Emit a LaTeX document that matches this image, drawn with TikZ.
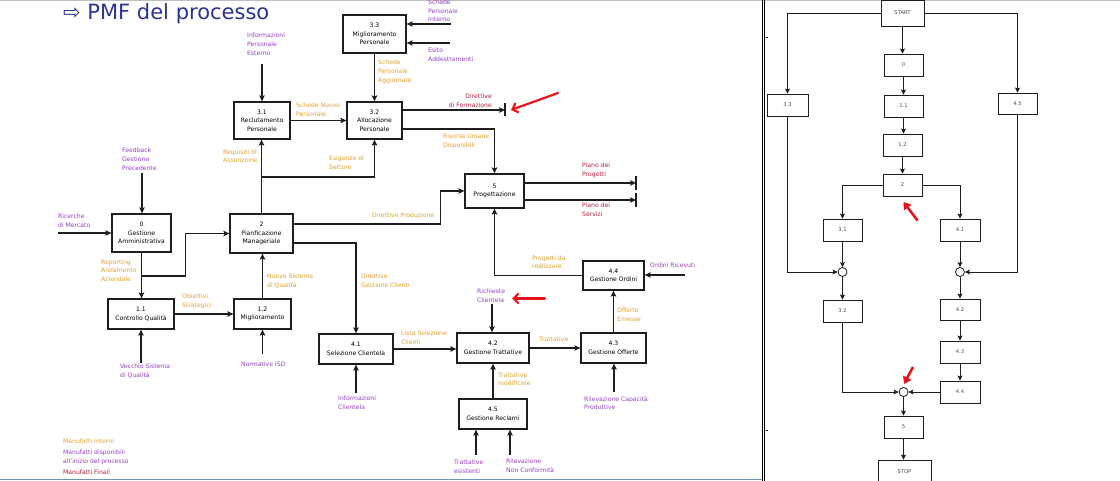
\documentclass[tikz,border=0pt]{standalone}
\usepackage{fontspec}
\setmainfont{DejaVu Sans}
\usetikzlibrary{arrows.meta,calc}
\definecolor{cpurple}{HTML}{9440C4}
\definecolor{corange}{HTML}{E2A22C}
\definecolor{cred}{HTML}{B4203C}
\definecolor{ctitle}{HTML}{2B3590}
\definecolor{cline}{HTML}{1E1E1E}
\definecolor{cbar}{HTML}{6E96BC}
\definecolor{cannot}{HTML}{E8141C}
\newcommand\bfnt{\fontsize{6.1}{8.5}\selectfont}
\newcommand\lfnt{\fontsize{6.1}{8.7}\selectfont}
\newcommand\rfnt{\fontsize{5.2}{6}\selectfont}
\begin{document}
\begin{tikzpicture}[x=1pt,y=-1pt,
  box/.style={draw=cline, line width=1.3pt, fill=white, align=center, inner sep=0pt, font=\bfnt, text=black},
  rbox/.style={draw=cline, line width=0.9pt, fill=white, align=center, inner sep=0pt, font=\rfnt, text=black!70},
  junc/.style={circle, draw=cline, line width=0.8pt, fill=white, minimum size=9pt, inner sep=0pt},
  arr/.style={draw=cline, line width=1.1pt, -{Stealth[length=6pt,width=5.5pt,inset=1.2pt]}},
  rarr/.style={draw=cline, line width=0.9pt, -{Stealth[length=5pt,width=5pt,inset=1pt]}},
  lin/.style={draw=cline, line width=1.1pt},
  lp/.style={text=cpurple, font=\lfnt, align=left, anchor=north west, inner sep=0pt},
  lo/.style={text=corange, font=\lfnt, align=left, anchor=north west, inner sep=0pt},
  lr/.style={text=cred, font=\lfnt, align=left, anchor=north west, inner sep=0pt},
  annot/.style={draw=cannot, line width=2.2pt, line cap=round, -{Straight Barb[length=5pt,width=10pt]}},
  annotb/.style={draw=cannot, line width=2.6pt, -{Triangle[length=7pt,width=9pt]}}
]
\useasboundingbox (0,0) rectangle (1120,481);
\fill[white] (0,0) rectangle (1120,481);
% frame lines
\draw[black!25, line width=1.2pt] (0,0.6) -- (1120,0.6);
\draw[cbar, line width=1.5pt] (0,479.5) -- (762,479.5);
\draw[black, line width=0.8pt] (762,0) -- (762,481);
\draw[black, line width=0.8pt] (764.8,0) -- (764.8,481);
\draw[black, line width=0.8pt] (765.5,37) -- (767.5,37);
\draw[black, line width=0.8pt] (765.5,430) -- (767.5,430);

% title
\node[anchor=base west, text=ctitle, font=\fontsize{21}{24}\selectfont, inner sep=0pt] (title) at (63,19.5) {⇨ PMF del processo};

% ===== left diagram boxes
\node[box, minimum width=63pt, minimum height=38pt] (b33) at (374.5,34) {3.3\\Miglioramento\\Personale};
\node[box, minimum width=56pt, minimum height=37pt] (b31) at (262,120.5) {3.1\\Reclutamento\\Personale};
\node[box, minimum width=55pt, minimum height=37pt] (b32) at (374.5,120.5) {3.2\\Allocazione\\Personale};
\node[box, minimum width=59pt, minimum height=34pt] (b5) at (494.5,191) {5\\Progettazione};
\node[box, minimum width=59pt, minimum height=38pt] (b0) at (141.5,233) {0\\Gestione\\Amministrativa};
\node[box, minimum width=63pt, minimum height=39pt] (b2) at (261.5,233.5) {2\\Pianficazione\\Manageriale};
\node[box, minimum width=66pt, minimum height=30pt] (b11) at (141,314) {1.1\\Controllo Qualità};
\node[box, minimum width=57pt, minimum height=30pt] (b12) at (262.5,314) {1.2\\Miglioramento};
\node[box, minimum width=74pt, minimum height=30pt] (b41) at (356,349) {4.1\\Selezione Clientela};
\node[box, minimum width=72pt, minimum height=30pt] (b42) at (493,348) {4.2\\Gestione Trattative};
\node[box, minimum width=65pt, minimum height=30pt] (b43) at (613.5,348) {4.3\\Gestione Offerte};
\node[box, minimum width=61pt, minimum height=29pt] (b44) at (613.5,275.5) {4.4\\Gestione Ordini};
\node[box, minimum width=68pt, minimum height=30pt] (b45) at (493,414) {4.5\\Gestione Reclami};

% ===== labels: inputs (purple)
\node[lp] (tIPE) at (247,33) {Informazioni\\Personale\\Esterno};
\node[lp] (tSPI) at (428,-0.3) {Schede\\Personale\\Interno};
\node[lp] (tEA) at (428,47.8) {Esito\\Addestramenti};
\node[lp] (tFGP) at (122,147.8) {Feedback\\Gestione\\Precedente};
\node[lp] (tRM) at (58,213.8) {Ricerche\\di Mercato};
\node[lp] (tVSQ) at (120,364) {Vecchio Sistema\\di Qualità};
\node[lp] (tNISO) at (241,362) {Normative ISO};
\node[lp] (tIC) at (338,396) {Informazioni\\Clientela};
\node[lp] (tRC) at (477,289) {Richieste\\Clientela};
\node[lp] (tOR) at (650,263) {Ordini Ricevuti};
\node[lp] (tRCP) at (584,396) {Rilevazione Capacità\\Produttive};
\node[lp] (tTE) at (454,460) {Trattative\\esistenti};
\node[lp] (tRNC) at (506,459) {Rilevazione\\Non Conformità};
% ===== labels: internal (orange)
\node[lo] (tSNP) at (296,102.8) {Schede Nuovo\\Personale};
\node[lo] (tSPA) at (378,59.8) {Schede\\Personale\\Aggiornate};
\node[lo] (tRA) at (223,149.3) {Requisiti di\\Assunzione};
\node[lo] (tES) at (329,156) {Esigenze di\\Settore};
\node[lo] (tRUD) at (443,134) {Risorse Umane\\Disponibili};
\node[lo] (tDP) at (372,213) {Direttive Produzione};
\node[lo] (tDGC) at (361,274) {Direttive\\Gestione Clienti};
\node[lo] (tRAA) at (101,259.3) {Reporting\\Andamento\\Aziendale};
\node[lo] (tOS) at (182,293.8) {Obiettivi\\Strategici};
\node[lo] (tNSQ) at (267,274) {Nuovo Sistema\\di Qualità};
\node[lo] (tLSC) at (401,331) {Lista Selezione\\Clienti};
\node[lo] (tTr) at (539,337) {Trattative};
\node[lo] (tTM) at (498,372.3) {Trattative\\modificate};
\node[lo] (tOE) at (617,307.8) {Offerte\\Emesse};
\node[lo] (tPR) at (532,255.3) {Progetti da\\realizzare};
% ===== labels: outputs (red)
\node[lr, anchor=north east, align=right] (tDF) at (492,94) {Direttive\\di Formazione};
\node[lr] (tPP) at (582,163) {Piano dei\\Progetti};
\node[lr] (tPS) at (582,203) {Piano dei\\Servizi};
% ===== legend
\node[lo] (tLeg1) at (63,439) {Manufatti Interni};
\node[lp] (tLeg2) at (63,450) {Manufatti disponibili\\all'inizio del processo};
\node[lr] (tLeg3) at (63,470) {Manufatti Finali};

% ===== input coordinates
\coordinate (iIPE) at (262,64);
\coordinate (iSPI) at (451,24);
\coordinate (iEA) at (450,43);
\coordinate (iFGP) at (142,173);
\coordinate (iRM) at (58,233);
\coordinate (iVSQ) at (141,363);
\coordinate (iNISO) at (262.5,354);
\coordinate (iIC) at (356,393);
\coordinate (iRC) at (492,304);
\coordinate (iOR) at (685,275);
\coordinate (iRCP) at (614,392);
\coordinate (iTE) at (476,455);
\coordinate (iRNC) at (510,455);
\coordinate (oDF) at (505,110);
\coordinate (oPP) at (636,183);
\coordinate (oPS) at (636,200);

\draw[arr] (iIPE) -- (iIPE |- b31.north);
\draw[arr] (iSPI) -- (iSPI -| b33.east);
\draw[arr] (iEA) -- (iEA -| b33.east);
\draw[arr] (iFGP) -- (iFGP |- b0.north);
\draw[arr] (iRM) -- (iRM -| b0.west);
\draw[arr] (iVSQ) -- (iVSQ |- b11.south);
\draw[arr] (iNISO) -- (iNISO |- b12.south);
\draw[arr] (iIC) -- (iIC |- b41.south);
\draw[arr] (iRC) -- (iRC |- b42.north);
\draw[arr] (iOR) -- (iOR -| b44.east);
\draw[arr] (iRCP) -- (iRCP |- b43.south);
\draw[arr] (iTE) -- (iTE |- b45.south);
\draw[arr] (iRNC) -- (iRNC |- b45.south);

% internal flows
\draw[arr] (b31.east) -- (b32.west);
\draw[arr] (b33.south) -- (b33.south |- b32.north);
\draw[arr] (b2.north) -- (b2.north |- b31.south);
\draw[arr] (b2.north |- 0,177) -| (b32.south);
\draw[arr] (b32.east |- 0,129) -| (b5.north);
\draw[arr] (b2.east |- 0,224) -| ($(b5.west)+(-24,0)$) -- (b5.west);
\draw[arr] (b2.east |- 0,243) -| (b41.north);
\draw[arr] (b0.south) -- (b0.south |- b11.north);
\draw[arr] (b0.south |- 0,276) -| ($(b2.west)+(-44,0)$) -- (b2.west);
\draw[arr] (b11.east) -- (b12.west);
\draw[arr] (b12.north) -- (b12.north |- b2.south);
\draw[arr] (b41.east) -- (b41.east -| b42.west);
\draw[arr] (b42.east) -- (b43.west);
\draw[arr] (b45.north) -- (b45.north |- b42.south);
\draw[arr] (b43.north) -- (b43.north |- b44.south);
\draw[arr] (b44.west) -| (b5.south);

% outputs
\draw[arr] (b32.east |- oDF) -- (oDF);
\draw[lin] ($(oDF)+(0,-6.5)$) -- ($(oDF)+(0,6.5)$);
\draw[arr] (b5.east |- oPP) -- (oPP);
\draw[lin] ($(oPP)+(0,-7)$) -- ($(oPP)+(0,7)$);
\draw[arr] (b5.east |- oPS) -- (oPS);
\draw[lin] ($(oPS)+(0,-7)$) -- ($(oPS)+(0,7)$);

% red annotations (left)
\coordinate (a1s) at (558,93);
\coordinate (a1e) at (511,110);
\draw[annot] (a1s) -- (a1e);
\coordinate (a2s) at (545,298.5);
\coordinate (a2e) at (512,298.5);
\draw[annot] (a2s) -- (a2e);

% ===== right flowchart
\node[rbox, minimum width=43pt, minimum height=26pt] (rst) at (902.5,13) {START};
\node[rbox, minimum width=39pt, minimum height=22pt] (r0) at (903.5,65) {0};
\node[rbox, minimum width=39pt, minimum height=22pt] (r11) at (903.5,106) {1.1};
\node[rbox, minimum width=39pt, minimum height=22pt] (r12) at (902.5,145) {1.2};
\node[rbox, minimum width=39pt, minimum height=22pt] (r2) at (902.5,185) {2};
\node[rbox, minimum width=41pt, minimum height=22pt] (r33) at (787.5,105) {3.3};
\node[rbox, minimum width=39pt, minimum height=21pt] (r45) at (1017.5,103.5) {4.5};
\node[rbox, minimum width=39pt, minimum height=22pt] (r31) at (842.5,230) {3.1};
\node[rbox, minimum width=40pt, minimum height=22pt] (r41) at (960,230) {4.1};
\node[junc] (cL) at (842.5,272) {};
\node[junc] (cR) at (960,272) {};
\node[rbox, minimum width=39pt, minimum height=22pt] (r32) at (842.5,311) {3.2};
\node[rbox, minimum width=40pt, minimum height=21pt] (r42) at (960,309.5) {4.2};
\node[rbox, minimum width=40pt, minimum height=22pt] (r43) at (960,352) {4.3};
\node[rbox, minimum width=40pt, minimum height=22pt] (r44) at (960,392) {4.4};
\node[junc] (cB) at (903.5,392) {};
\node[rbox, minimum width=39pt, minimum height=22pt] (r5) at (903.5,427) {5};
\node[rbox, minimum width=53pt, minimum height=24pt] (rstop) at (904.5,472) {STOP};

\draw[rarr] (rst.south) -- (rst.south |- r0.north);
\draw[rarr] (rst.west) -| (r33.north);
\draw[rarr] (rst.east) -| (r45.north);
\draw[rarr] (r0.south) -- (r0.south |- r11.north);
\draw[rarr] (r11.south) -- (r11.south |- r12.north);
\draw[rarr] (r12.south) -- (r12.south |- r2.north);
\draw[rarr] (r2.west) -| (r31.north);
\draw[rarr] (r2.east) -| (r41.north);
\draw[rarr] (r33.south) |- (cL.west);
\draw[rarr] (r31.south) -- (cL.north);
\draw[rarr] (r45.south) |- (cR.east);
\draw[rarr] (r41.south) -- (cR.north);
\draw[rarr] (cL.south) -- (r32.north);
\draw[rarr] (cR.south) -- (r42.north);
\draw[rarr] (r42.south) -- (r43.north);
\draw[rarr] (r43.south) -- (r44.north);
\draw[rarr] (r32.south) |- (cB.west);
\draw[rarr] (r44.west) -- (cB.east);
\draw[rarr] (cB.south) -- (r5.north);
\draw[rarr] (r5.south) -- (r5.south |- rstop.north);

% red annotations (right)
\coordinate (a3s) at (917.5,220.5);
\coordinate (a3e) at (903.5,202);
\draw[annotb] (a3s) -- (a3e);
\coordinate (a4s) at (913,367);
\coordinate (a4e) at (904,384);
\draw[annotb] (a4s) -- (a4e);
\end{tikzpicture}
\end{document}
